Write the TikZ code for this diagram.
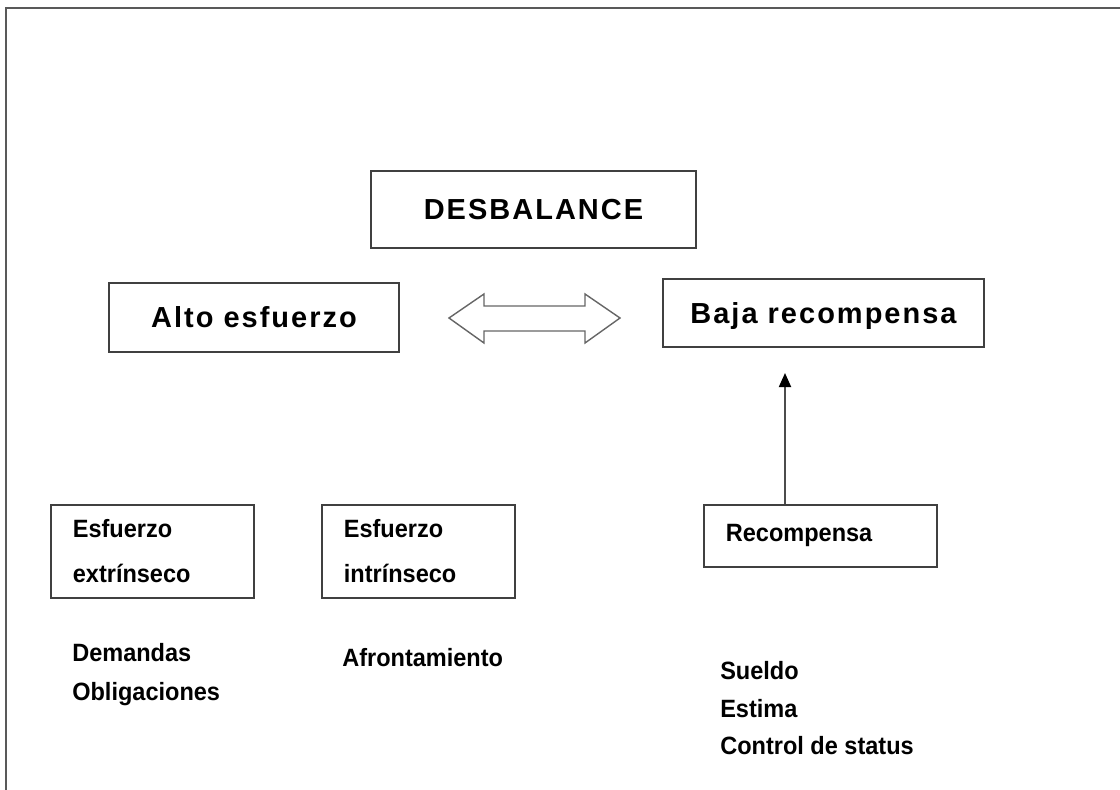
\documentclass[tikz,border=0pt]{standalone}
\usepackage{fontspec}
\setmainfont{Liberation Sans}
\newfontfamily\headfont[LetterSpace=7]{Liberation Sans}
\newfontfamily\narrowfont[FakeStretch=0.94]{Liberation Sans}
\usetikzlibrary{arrows.meta}
\tikzset{
	headbox/.style={shape=rectangle, draw=black!75, line width=1.2pt, align=center, text height=14.8pt, text depth=0pt, font=\headfont\bfseries\fontsize{20.6}{24}\selectfont},
	subbox/.style={shape=rectangle, draw=black!75, line width=1.2pt, anchor=north west, inner xsep=0.55cm, align=left, font=\narrowfont\bfseries\fontsize{17.8}{32}\selectfont},
	item/.style={anchor=base west, inner sep=0pt, font=\narrowfont\bfseries\fontsize{17.8}{22}\selectfont}
}
\begin{document}
\begin{tikzpicture}[x=0.025cm, y=-0.025cm]
			\useasboundingbox (0,0) rectangle (1120,790);
			%Frame:
			\draw[black!65, line width=1.5pt] (6,790) -- (6,8) -- (1120,8);
			%Top row:
			\path
				(533.5, 209.5) node[headbox, minimum width=8.125cm, minimum height=1.925cm] (desbalance) {DESBALANCE}
				(254, 317.5) node[headbox, minimum width=7.25cm, minimum height=1.725cm] (alto) {Alto esfuerzo}
				(823.5, 313) node[headbox, minimum width=8.025cm, minimum height=1.7cm] (baja) {Baja recompensa};
			%Double arrow:
			\draw[black!60, line width=1pt] (449,318) -- (484,294) -- (484,306) -- (585,306) -- (585,294) -- (620,318) -- (585,343) -- (585,331) -- (484,331) -- (484,343) -- cycle;
			%Lower boxes:
			\path
				(50, 504) node[subbox, text width=3.975cm, minimum height=2.325cm] (extrinseco) {Esfuerzo\\extrínseco}
				(321, 504) node[subbox, text width=3.725cm, minimum height=2.325cm] (intrinseco) {Esfuerzo\\intrínseco}
				(703, 504) node[subbox, text width=4.725cm, minimum height=1.55cm] (recompensa) {Recompensa};
			\coordinate (tip) at (785, 373);
			\draw[black!70, line width=1.3pt, -{Triangle[length=0.35cm, width=0.3cm, black]}] (recompensa.north -| tip) -- (tip);
			%Lists:
			\path
				(72, 661) node[item] (demandas) {Demandas}
				(72, 700) node[item] (obligaciones) {Obligaciones}
				(342, 666) node[item] (afrontamiento) {Afrontamiento}
				(720, 679) node[item] (sueldo) {Sueldo}
				(720, 717) node[item] (estima) {Estima}
				(720, 754) node[item] (control) {Control de status};
\end{tikzpicture}
\end{document}
